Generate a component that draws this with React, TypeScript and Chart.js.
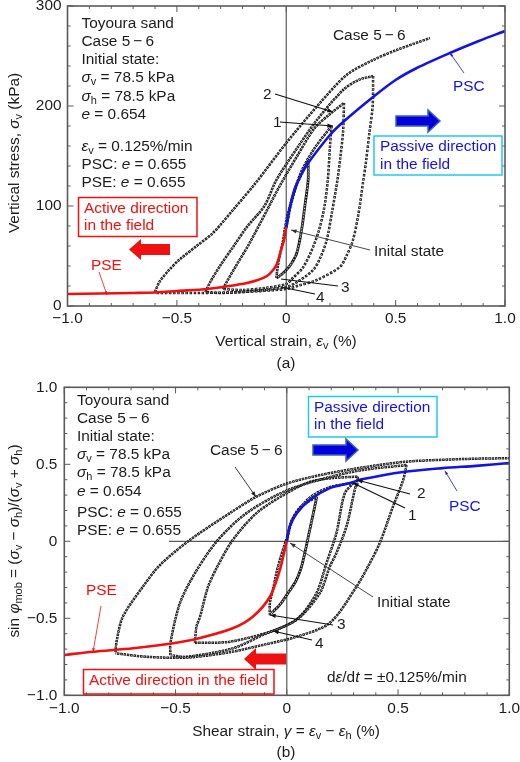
import React, { useEffect, useRef } from 'react';
import { Chart, registerables } from 'chart.js';

Chart.register(...registerables);

const FONT = '"Liberation Sans", Arial, sans-serif';
const BLUE = '#1414e0';
const RED = '#ee1111';
const AXIS = '#5a5a5a';
const INK = '#1c1c1c';

type Pt = [number, number];
type Run = string | { t: string; i?: boolean; sub?: boolean };

// ---- panel (a): vertical strain (%) vs vertical stress (kPa)
const aPsc: Pt[] = [[0, 78], [0.017, 99], [0.04, 118], [0.07, 132], [0.1, 143], [0.2, 171], [0.26, 184], [0.397, 209], [0.5, 226], [0.597, 238], [0.748, 253], [0.88, 265], [1, 275]];
const aPse: Pt[] = [[-1, 12], [-0.85, 12.5], [-0.7, 13], [-0.6, 13.5], [-0.5, 15], [-0.36, 17], [-0.26, 20], [-0.18, 23], [-0.13, 26], [-0.088, 30], [-0.06, 36], [-0.043, 42], [-0.025, 55], [-0.01, 66], [0, 79]];
const aLoad1: Pt[] = [[0, 78], [0.02, 100], [0.05, 122], [0.1, 145]];
const aUnload1: Pt[] = [[0.1, 145], [0.1, 126], [0.085, 100], [0.07, 76], [0.048, 53], [0.025, 43], [0, 36], [-0.025, 31], [-0.045, 28]];
const aLoad2: Pt[] = [[-0.045, 28], [-0.04, 38], [-0.03, 50], [-0.015, 65], [0, 85], [0.03, 110], [0.07, 135], [0.13, 158], [0.207, 180]];
const aUnload2: Pt[] = [[0.207, 180], [0.2, 160], [0.19, 126], [0.175, 100], [0.15, 76], [0.115, 55], [0.075, 38], [0.03, 28], [0, 22], [-0.1, 18], [-0.2, 16], [-0.29, 17]];
const aLoad3: Pt[] = [[-0.29, 17], [-0.27, 25], [-0.23, 40], [-0.17, 62], [-0.09, 95], [-0.03, 120], [0.05, 150], [0.13, 178], [0.2, 192], [0.264, 203]];
const aUnload3: Pt[] = [[0.264, 203], [0.26, 175], [0.248, 150], [0.234, 126], [0.21, 95], [0.185, 66], [0.155, 48], [0.123, 36], [0.05, 24], [0, 19], [-0.15, 15], [-0.3, 13], [-0.37, 14]];
const aLoad4: Pt[] = [[-0.37, 14], [-0.345, 25], [-0.3, 41], [-0.24, 60], [-0.18, 79], [-0.1, 100], [-0.045, 126], [0.05, 158], [0.14, 186], [0.26, 216], [0.33, 226], [0.397, 230]];
const aUnload4: Pt[] = [[0.397, 230], [0.395, 200], [0.38, 173], [0.365, 145], [0.35, 122], [0.33, 92], [0.305, 66], [0.275, 50], [0.245, 39], [0.14, 26], [0.05, 20], [0, 17], [-0.2, 14], [-0.4, 13], [-0.6, 13]];
const aLoad5: Pt[] = [[-0.6, 14], [-0.58, 24], [-0.54, 35], [-0.49, 46], [-0.41, 60], [-0.335, 73], [-0.24, 97], [-0.14, 123], [0, 163], [0.154, 203], [0.276, 231], [0.397, 246], [0.505, 256], [0.657, 268]];
const aZeroLine: Pt[] = [[0, 0], [0, 300]];

// ---- panel (b): shear strain (%) vs sin phi_mob
const bPsc: Pt[] = [[0, 0], [0.013, 0.095], [0.044, 0.18], [0.103, 0.268], [0.193, 0.345], [0.283, 0.378], [0.343, 0.404], [0.523, 0.45], [0.7, 0.475], [0.85, 0.49], [1, 0.508]];
const bPse: Pt[] = [[-1, -0.738], [-0.87, -0.717], [-0.69, -0.695], [-0.51, -0.662], [-0.39, -0.628], [-0.243, -0.565], [-0.153, -0.49], [-0.076, -0.36], [-0.031, -0.186], [-0.015, -0.09], [0, 0]];
const bLoad1: Pt[] = [[0, 0], [0.02, 0.13], [0.06, 0.22], [0.135, 0.29]];
const bUnload1: Pt[] = [[0.135, 0.29], [0.103, 0.073], [0.066, -0.165], [0.04, -0.26], [0.005, -0.337], [-0.03, -0.41], [-0.069, -0.467]];
const bLoad2: Pt[] = [[-0.076, -0.48], [-0.076, -0.4], [-0.06, -0.3], [-0.046, -0.2], [-0.025, -0.09], [0, 0.02], [0.03, 0.15], [0.1, 0.28], [0.19, 0.35], [0.3, 0.38]];
const bUnload2: Pt[] = [[0.3, 0.38], [0.26, 0.31], [0.223, 0.054], [0.178, -0.143], [0.133, -0.337], [0.05, -0.5], [-0.06, -0.58], [-0.256, -0.652], [-0.413, -0.66]];
const bLoad3: Pt[] = [[-0.413, -0.66], [-0.406, -0.555], [-0.39, -0.49], [-0.355, -0.3], [-0.316, -0.175], [-0.243, 0.008], [-0.136, 0.183], [0, 0.313], [0.103, 0.385], [0.2, 0.41], [0.32, 0.42]];
const bUnload3: Pt[] = [[0.32, 0.42], [0.3, 0.3], [0.268, 0.095], [0.223, -0.076], [0.193, -0.165], [0.148, -0.337], [0.044, -0.51], [-0.108, -0.608], [-0.243, -0.695], [-0.45, -0.75], [-0.518, -0.74]];
const bLoad4: Pt[] = [[-0.523, -0.74], [-0.523, -0.66], [-0.48, -0.4], [-0.41, -0.2], [-0.31, 0.008], [-0.181, 0.183], [0, 0.33], [0.2, 0.42], [0.35, 0.465], [0.538, 0.495]];
const bUnload4: Pt[] = [[0.538, 0.495], [0.523, 0.398], [0.477, 0.225], [0.418, -0.011], [0.37, -0.15], [0.313, -0.295], [0.193, -0.53], [0.044, -0.62], [-0.108, -0.673], [-0.256, -0.72], [-0.45, -0.755], [-0.63, -0.75], [-0.77, -0.727]];
const bLoad5: Pt[] = [[-0.77, -0.72], [-0.765, -0.65], [-0.737, -0.49], [-0.647, -0.295], [-0.57, -0.154], [-0.436, 0.008], [-0.256, 0.183], [-0.136, 0.29], [0, 0.375], [0.15, 0.43], [0.343, 0.48], [0.538, 0.517], [0.79, 0.534], [1, 0.54]];
const bZeroV: Pt[] = [[0, -1], [0, 1]];
const bZeroH: Pt[] = [[-0.53, 0], [1, 0]];

// ---- helpers for mixed-font annotation text
const it = (t: string): Run => ({ t, i: true });
const sb = (t: string): Run => ({ t, sub: true });

const fmtStrain = (v: number) => {
  if (Math.abs(v) < 1e-6) return '0';
  return (v < 0 ? '\u2212' : '') + Math.abs(v).toFixed(1);
};
const isMult = (v: number, m: number) => Math.abs(v / m - Math.round(v / m)) < 1e-6;

function drawRuns(ctx: CanvasRenderingContext2D, runs: Run[], x: number, y: number, opt: any = {}) {
  const size = opt.size || 15.4;
  const font = (r: Run) => {
    const o = typeof r === 'string' ? {} as any : r;
    return `${o.i ? 'italic ' : ''}${o.sub ? Math.round(size * 0.72) : size}px ${FONT}`;
  };
  const text = (r: Run) => (typeof r === 'string' ? r : r.t);
  let total = 0;
  runs.forEach((r) => { ctx.font = font(r); total += ctx.measureText(text(r)).width; });
  ctx.save();
  ctx.translate(x, y);
  if (opt.rot) ctx.rotate(opt.rot);
  ctx.fillStyle = opt.color || INK;
  ctx.textBaseline = 'middle';
  ctx.textAlign = 'left';
  let cx = opt.center ? -total / 2 : 0;
  runs.forEach((r) => {
    ctx.font = font(r);
    const isSub = typeof r !== 'string' && r.sub;
    ctx.fillText(text(r), cx, isSub ? 4 : 0);
    cx += ctx.measureText(text(r)).width;
  });
  ctx.restore();
}

function leader(ctx: CanvasRenderingContext2D, x1: number, y1: number, x2: number, y2: number, color = '#222', w = 1, head = 6) {
  const a = Math.atan2(y2 - y1, x2 - x1);
  ctx.strokeStyle = color;
  ctx.fillStyle = color;
  ctx.lineWidth = w;
  ctx.beginPath(); ctx.moveTo(x1, y1); ctx.lineTo(x2, y2); ctx.stroke();
  ctx.beginPath();
  ctx.moveTo(x2, y2);
  ctx.lineTo(x2 - head * Math.cos(a - 0.35), y2 - head * Math.sin(a - 0.35));
  ctx.lineTo(x2 - head * Math.cos(a + 0.35), y2 - head * Math.sin(a + 0.35));
  ctx.closePath(); ctx.fill();
}

function blockArrow(ctx: CanvasRenderingContext2D, tail: number, tip: number, cy: number, shaft: number, headH: number, headL: number, fill: string, edge?: string) {
  const d = tip > tail ? -1 : 1;
  ctx.beginPath();
  ctx.moveTo(tail, cy - shaft / 2);
  ctx.lineTo(tip + d * headL, cy - shaft / 2);
  ctx.lineTo(tip + d * headL, cy - headH / 2);
  ctx.lineTo(tip, cy);
  ctx.lineTo(tip + d * headL, cy + headH / 2);
  ctx.lineTo(tip + d * headL, cy + shaft / 2);
  ctx.lineTo(tail, cy + shaft / 2);
  ctx.closePath();
  ctx.fillStyle = fill;
  ctx.fill();
  if (edge) { ctx.strokeStyle = edge; ctx.lineWidth = 1.5; ctx.stroke(); }
}

function box(ctx: CanvasRenderingContext2D, x1: number, y1: number, x2: number, y2: number, color: string) {
  ctx.strokeStyle = color;
  ctx.lineWidth = 1.5;
  ctx.strokeRect(x1, y1, x2 - x1, y2 - y1);
}

function drawPanelA(ctx: CanvasRenderingContext2D) {
  const tx = 81.5;
  drawRuns(ctx, ['Toyoura sand'], tx, 24);
  drawRuns(ctx, ['Case 5\u2009\u2212\u20096'], tx, 42);
  drawRuns(ctx, ['Initial state:'], tx, 60);
  drawRuns(ctx, [it('\u03c3'), sb('v'), ' = 78.5 kPa'], tx, 78);
  drawRuns(ctx, [it('\u03c3'), sb('h'), ' = 78.5 kPa'], tx, 97);
  drawRuns(ctx, [it('e'), ' = 0.654'], tx, 115);
  drawRuns(ctx, [it('\u03b5'), sb('v'), ' = 0.125%/min'], tx, 147);
  drawRuns(ctx, ['PSC: ', it('e'), ' = 0.655'], tx, 165);
  drawRuns(ctx, ['PSE: ', it('e'), ' = 0.655'], tx, 183);
  drawRuns(ctx, ['Case 5\u2009\u2212\u20096'], 333, 36);

  drawRuns(ctx, ['PSC'], 453, 87, { color: BLUE });
  leader(ctx, 464, 73, 450, 53, BLUE, 0.8, 4);
  blockArrow(ctx, 396, 440, 121, 10, 22, 12, '#0000dd', '#3a62b8');
  box(ctx, 374, 136, 502, 175, '#22c8f0');
  drawRuns(ctx, ['Passive direction'], 380, 147, { color: BLUE });
  drawRuns(ctx, ['in the field'], 380, 165, { color: BLUE });

  box(ctx, 78.5, 197.5, 197, 236.5, RED);
  drawRuns(ctx, ['Active direction'], 84, 209, { color: RED });
  drawRuns(ctx, ['in the field'], 84, 226, { color: RED });
  blockArrow(ctx, 170, 129, 249.5, 11, 21, 12, RED);
  drawRuns(ctx, ['PSE'], 91, 266, { color: RED });
  leader(ctx, 99, 272, 107, 295, RED, 0.8, 4);

  drawRuns(ctx, ['2'], 263, 95);
  leader(ctx, 275, 94, 333, 112, '#111', 1.2);
  drawRuns(ctx, ['1'], 273, 123);
  leader(ctx, 280, 122, 333, 126, '#111', 1.2);
  drawRuns(ctx, ['Inital state'], 374, 252);
  leader(ctx, 370, 250, 291, 230, '#333', 0.9);
  drawRuns(ctx, ['3'], 341, 288);
  leader(ctx, 338, 286, 281, 279, '#111', 1.2, 0);
  drawRuns(ctx, ['4'], 316, 298);
  leader(ctx, 315, 294, 281, 287, '#111', 1.2, 0);

  drawRuns(ctx, ['Vertical strain, ', it('\u03b5'), sb('v'), ' (%)'], 286, 342, { center: true });
  drawRuns(ctx, ['(a)'], 286, 364, { center: true });
  drawRuns(ctx, ['Vertical stress, ', it('\u03c3'), sb('v'), ' (kPa)'], 15, 153, { center: true, rot: -Math.PI / 2 });
}

function drawPanelB(ctx: CanvasRenderingContext2D) {
  const tx = 77;
  drawRuns(ctx, ['Toyoura sand'], tx, 401);
  drawRuns(ctx, ['Case 5\u2009\u2212\u20096'], tx, 419);
  drawRuns(ctx, ['Initial state:'], tx, 437);
  drawRuns(ctx, [it('\u03c3'), sb('v'), ' = 78.5 kPa'], tx, 455);
  drawRuns(ctx, [it('\u03c3'), sb('h'), ' = 78.5 kPa'], tx, 473);
  drawRuns(ctx, [it('e'), ' = 0.654'], tx, 492);
  drawRuns(ctx, ['PSC: ', it('e'), ' = 0.655'], tx, 513);
  drawRuns(ctx, ['PSE: ', it('e'), ' = 0.655'], tx, 531);

  drawRuns(ctx, ['Case 5\u2009\u2212\u20096'], 210, 451);
  leader(ctx, 235, 467, 256, 497, '#222', 0.9);

  box(ctx, 308.5, 396.5, 437, 437, '#22c8f0');
  drawRuns(ctx, ['Passive direction'], 314, 408, { color: BLUE });
  drawRuns(ctx, ['in the field'], 314, 425, { color: BLUE });
  blockArrow(ctx, 313, 358, 450, 10, 22, 12, '#0000dd', '#3a62b8');
  drawRuns(ctx, ['PSC'], 449, 507, { color: BLUE });
  leader(ctx, 457, 491, 445, 471, BLUE, 0.8, 4);

  drawRuns(ctx, ['2'], 417, 494);
  leader(ctx, 410, 494, 357, 480, '#111', 1.2);
  drawRuns(ctx, ['1'], 408, 516);
  leader(ctx, 405, 508, 353, 483, '#111', 1.2);
  drawRuns(ctx, ['Initial state'], 377, 603);
  leader(ctx, 373, 597, 290, 543, '#333', 0.9);
  drawRuns(ctx, ['3'], 337, 625);
  leader(ctx, 333, 625, 270, 615, '#111', 1.2);
  drawRuns(ctx, ['4'], 315, 644);
  leader(ctx, 312, 640, 273, 631, '#111', 1.2);

  drawRuns(ctx, ['d', it('\u03b5'), '/d', it('t'), ' = \u00b10.125%/min'], 327, 678);

  box(ctx, 83.5, 669.5, 274, 694, RED);
  drawRuns(ctx, ['Active direction in the field'], 89, 681, { color: RED });
  blockArrow(ctx, 286, 244, 659, 11, 22, 12, RED);
  drawRuns(ctx, ['PSE'], 86, 591, { color: RED });
  leader(ctx, 101, 606, 93, 652, RED, 0.8, 4);

  drawRuns(ctx, ['Shear strain, ', it('\u03b3'), ' = ', it('\u03b5'), sb('v'), ' \u2212 ', it('\u03b5'), sb('h'), ' (%)'], 286, 732, { center: true });
  drawRuns(ctx, ['(b)'], 286, 753, { center: true });
  drawRuns(ctx, ['sin ', it('\u03c6'), sb('mob'), ' = (', it('\u03c3'), sb('v'), ' \u2212 ', it('\u03c3'), sb('h'), ')/(', it('\u03c3'), sb('v'), ' + ', it('\u03c3'), sb('h'), ')'], 15, 541, { center: true, rot: -Math.PI / 2 });
}

function framePlugin(top: number, draw: (c: CanvasRenderingContext2D) => void, xMajor: number, yMajor: number) {
  return {
    id: 'frame',
    afterDraw(chart: any) {
      const { ctx, chartArea: a, scales } = chart;
      ctx.save();
      ctx.strokeStyle = AXIS;
      ctx.lineWidth = 1;
      const tick = (x1: number, y1: number, x2: number, y2: number) => {
        ctx.beginPath(); ctx.moveTo(x1, y1); ctx.lineTo(x2, y2); ctx.stroke();
      };
      scales.x.ticks.forEach((t: any) => {
        const px = scales.x.getPixelForValue(t.value);
        const len = isMult(t.value, xMajor) ? 6 : 3;
        tick(px, a.bottom, px, a.bottom - len);
        tick(px, a.top, px, a.top + len);
      });
      scales.y.ticks.forEach((t: any) => {
        const py = scales.y.getPixelForValue(t.value);
        const len = isMult(t.value, yMajor) ? 6 : 3;
        tick(a.left, py, a.left + len, py);
        tick(a.right, py, a.right - len, py);
      });
      ctx.lineWidth = 1.6;
      ctx.strokeRect(a.left, a.top, a.right - a.left, a.bottom - a.top);
      ctx.translate(0, -top);
      draw(ctx);
      ctx.restore();
    },
  };
}

// open-square chain: a dashed black line with a pale dash running through each square
const chain = (data: Pt[], gap = 0.8, size = 2.5) => {
  const base = {
    data: data.map(([x, y]) => ({ x, y })),
    showLine: true,
    tension: 0.3,
    pointRadius: 0,
  };
  return [
    { ...base, borderColor: '#dcdcdc', borderWidth: size - 1.6, borderDash: [size - 1.6, gap + 1.6], borderDashOffset: -0.8 },
    { ...base, borderColor: '#111', borderWidth: size, borderDash: [size, gap] },
  ];
};
const solid = (data: Pt[], color: string, borderWidth = 2.6) => ({
  data: data.map(([x, y]) => ({ x, y })),
  showLine: true,
  borderColor: color,
  borderWidth,
  tension: 0.3,
  pointRadius: 0,
});
const axisLine = (data: Pt[]) => solid(data, AXIS, 1.2);

const axisCommon = (min: number, max: number, step: number, major: number, fmt: (v: number) => string, padding: number) => ({
  type: 'linear' as const,
  min,
  max,
  border: { display: false },
  grid: { display: false, drawTicks: false },
  ticks: {
    stepSize: step,
    autoSkip: false,
    maxRotation: 0,
    padding,
    color: INK,
    font: { family: FONT, size: 15.4 },
    callback: (v: any) => (isMult(Number(v), major) ? fmt(Number(v)) : ''),
  },
});

function makeChart(canvas: HTMLCanvasElement, top: number, height: number, plot: any, datasets: any[], yScale: any, xMajor: number, yMajor: number, draw: any) {
  return new Chart(canvas, {
    type: 'scatter',
    data: { datasets },
    options: {
      animation: false,
      responsive: false,
      events: [],
      layout: { padding: { top: plot.top - top, right: 520 - plot.right, left: 0, bottom: 0 } },
      plugins: { legend: { display: false }, tooltip: { enabled: false } },
      scales: {
        x: {
          ...axisCommon(-1, 1, 0.1, xMajor, fmtStrain, 4),
          afterFit: (s: any) => {
            s.height = top + height - plot.bottom;
            s.paddingLeft = 0; s.paddingRight = 0;
          },
        },
        y: {
          ...yScale,
          afterFit: (s: any) => {
            s.width = plot.left;
            s.paddingTop = 0; s.paddingBottom = 0;
          },
        },
      },
    } as any,
    plugins: [framePlugin(top, draw, xMajor, yMajor) as any],
  });
}

export default function App() {
  const refA = useRef<HTMLCanvasElement>(null);
  const refB = useRef<HTMLCanvasElement>(null);

  useEffect(() => {
    if (!refA.current || !refB.current) return;
    const chartA = makeChart(
      refA.current, 0, 375,
      { left: 67.5, right: 505, top: 6, bottom: 306 },
      [
        solid(aPse, RED), solid(aPsc, BLUE),
        ...chain(aLoad5, 1), ...chain(aUnload4, 1.6), ...chain(aLoad4, 0.8), ...chain(aUnload3, 1.4), ...chain(aLoad3, 0.8),
        ...chain(aUnload2, 1.4), ...chain(aLoad2, 0.8), ...chain(aUnload1, 0.1, 2.8), ...chain(aLoad1, 0.8),
        axisLine(aZeroLine),
      ],
      axisCommon(0, 300, 20, 100, (v) => String(v), 6),
      0.5, 100, drawPanelA,
    );
    const chartB = makeChart(
      refB.current, 375, 387,
      { left: 64.3, right: 509.3, top: 387.3, bottom: 695.3 },
      [
        solid(bPse, RED), solid(bPsc, BLUE),
        ...chain(bLoad5), ...chain(bUnload4), ...chain(bLoad4), ...chain(bUnload3), ...chain(bLoad3),
        ...chain(bUnload2), ...chain(bLoad2), ...chain(bUnload1, 0.1, 2.8), ...chain(bLoad1),
        axisLine(bZeroV), axisLine(bZeroH),
      ],
      axisCommon(-1, 1, 0.1, 0.5, fmtStrain, 7),
      0.5, 0.5, drawPanelB,
    );
    return () => {
      chartA.destroy();
      chartB.destroy();
    };
  }, []);

  return (
    <div style={{ position: 'absolute', left: 0, top: 0, width: 520, height: 762, background: '#fff', overflow: 'hidden' }}>
      <canvas ref={refA} width={520} height={375} style={{ position: 'absolute', left: 0, top: 0, width: 520, height: 375 }} />
      <canvas ref={refB} width={520} height={387} style={{ position: 'absolute', left: 0, top: 375, width: 520, height: 387 }} />
    </div>
  );
}
